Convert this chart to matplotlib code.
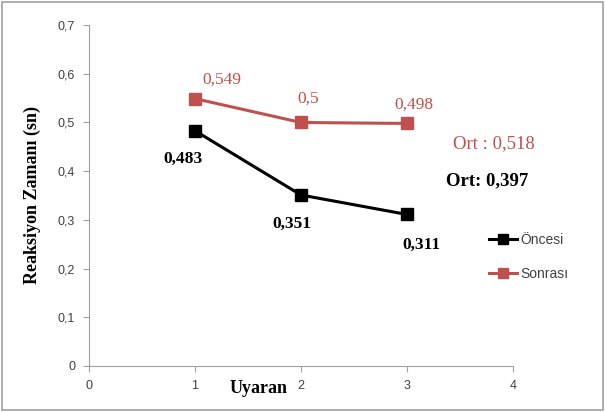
import matplotlib
matplotlib.use("Agg")
import matplotlib.pyplot as plt
from matplotlib.patches import Rectangle

x = [1, 2, 3]
oncesi = [0.483, 0.351, 0.311]
sonrasi = [0.549, 0.5, 0.498]
oncesi_labels = ["0,483", "0,351", "0,311"]
sonrasi_labels = ["0,549", "0,5", "0,498"]
xticks = [0, 1, 2, 3, 4]
yticks = [0, 0.1, 0.2, 0.3, 0.4, 0.5, 0.6, 0.7]
ytick_labels = ["0", "0,1", "0,2", "0,3", "0,4", "0,5", "0,6", "0,7"]

RED = "#C0504D"
SERIF = ["Liberation Serif", "DejaVu Serif"]
SANS = ["Liberation Sans", "DejaVu Sans"]

fig = plt.figure(figsize=(6.05, 4.12), dpi=100)
fig.patches.append(Rectangle((0.004, 0.006), 0.992, 0.988, transform=fig.transFigure,
                             fill=False, edgecolor="#A0A0A0", linewidth=1.2))
ax = fig.add_axes([0.147, 0.112, 0.701, 0.827])

ax.plot(x, oncesi, color="black", marker="s", markersize=8.5, linewidth=2.2, label="Öncesi")
ax.plot(x, sonrasi, color=RED, marker="s", markersize=8.5, linewidth=2.2, label="Sonrası")

ax.set_xlim(0, 4)
ax.set_ylim(0, 0.7)
ax.set_xticks(xticks)
ax.set_xticklabels([str(v) for v in xticks], family=SANS, fontsize=9, color="#404040")
ax.set_yticks(yticks)
ax.set_yticklabels(ytick_labels, family=SANS, fontsize=9, color="#404040")
for s in ["top", "right"]:
    ax.spines[s].set_visible(False)
for s in ["left", "bottom"]:
    ax.spines[s].set_color("#A0A0A0")
ax.tick_params(direction="out", length=4, color="#A0A0A0", pad=6)

ax.set_ylabel("Reaksiyon Zamanı (sn)", family=SERIF, fontsize=13, fontweight="bold", labelpad=12)

# x label placed next to tick 2 like the original
ax.text(1.6, -0.047, "Uyaran", family=SERIF, fontsize=13, fontweight="bold",
        ha="center", va="center", clip_on=False)

# data labels
offs_s = [(0.25, 0.04), (0.07, 0.05), (0.06, 0.038)]
for xi, yi, lab, (dx, dy) in zip(x, sonrasi, sonrasi_labels, offs_s):
    ax.text(xi + dx, yi + dy, lab, family=SERIF, fontsize=12.5, color=RED,
            ha="center", va="center")
offs_o = [(-0.113, -0.058), (-0.085, -0.06), (0.14, -0.063)]
for xi, yi, lab, (dx, dy) in zip(x, oncesi, oncesi_labels, offs_o):
    ax.text(xi + dx, yi + dy, lab, family=SERIF, fontsize=12.5, fontweight="bold",
            color="black", ha="center", va="center")

ax.text(3.82, 0.456, "Ort : 0,518", family=SERIF, fontsize=13.5, color=RED,
        ha="center", va="center", clip_on=False)
ax.text(3.755, 0.38, "Ort: 0,397", family=SERIF, fontsize=13.5, fontweight="bold",
        color="black", ha="center", va="center", clip_on=False)

leg = ax.legend(loc="center left", bbox_to_anchor=(0.915, 0.32), frameon=False,
                prop={"family": SANS, "size": 10}, handlelength=2.0, labelspacing=1.4,
                handletextpad=0.25, markerscale=0.9)
for t in leg.get_texts():
    t.set_color("#404040")

fig.savefig("out.png", dpi=100)
